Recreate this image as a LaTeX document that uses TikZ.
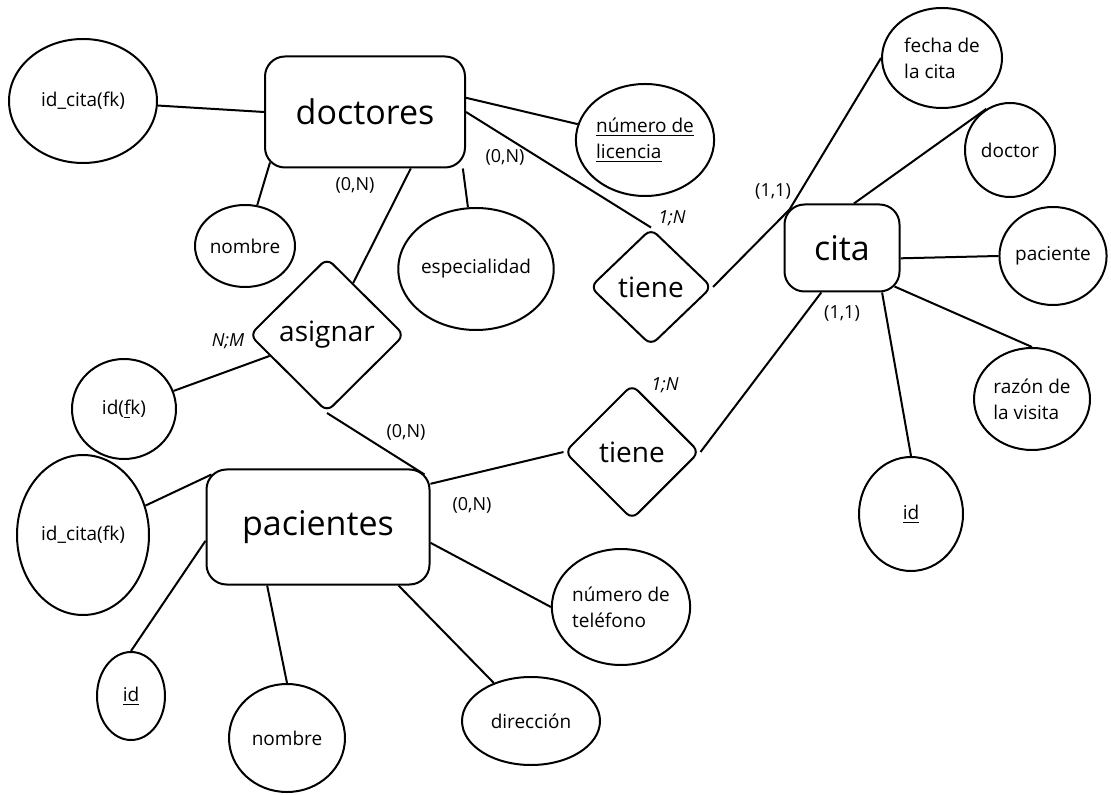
\documentclass[tikz,border=0pt]{standalone}
\usepackage{fontspec}
\setmainfont{Open Sans}
\usetikzlibrary{shapes.geometric}

\begin{document}
\begin{tikzpicture}[x=0.5pt,y=-0.5pt,line width=1pt,
	entidad/.style={draw,rounded corners=10pt,inner sep=0pt,font=\fontsize{17}{20}\selectfont},
	relacion/.style={diamond,draw,rounded corners=4pt,inner sep=0pt,aspect=1,font=\fontsize{14}{16}\selectfont},
	atributo/.style 2 args={ellipse,draw,inner sep=0pt,minimum width=#1,minimum height=#2,align=left,font=\fontsize{9.5}{13}\selectfont},
	cardlabel/.style={inner sep=1pt,font=\fontsize{9}{11}\selectfont}]
			\useasboundingbox (0,0) rectangle (1111,795);
			
			% entidades
			\node[entidad,minimum width=100pt,minimum height=55.5pt] (doctores) at (365,112) {doctores};
			\node[entidad,minimum width=57.5pt,minimum height=43.5pt] (cita) at (842,248) {cita};
			\node[entidad,minimum width=111.5pt,minimum height=57.5pt] (pacientes) at (318,527) {pacientes};
			
			% esquinas redondeadas
			\coordinate (docSW) at ([shift={(6,-6)}]doctores.south west);
			\coordinate (citaNW) at ([shift={(6,6)}]cita.north west);
			\coordinate (citaSE) at ([shift={(-6,-6)}]cita.south east);
			\coordinate (pacNW) at ([shift={(6,6)}]pacientes.north west);
			\coordinate (pacNE) at ([shift={(-6,6)}]pacientes.north east);
			
			% relaciones
			\node[relacion,minimum width=77.5pt,minimum height=77pt] (asignar) at (327,335) {asignar};
			\node[relacion,minimum width=61pt,minimum height=58.5pt] (tieneA) at (651,287) {tiene};
			\node[relacion,minimum width=67.5pt,minimum height=67.5pt] (tieneB) at (632,452) {tiene};
			
			% atributos
			\node[atributo={74pt}{62pt}] (idcitaD) at (83,101) {id\_cita(fk)};
			\node[atributo={50pt}{41pt}] (nombreD) at (245,246) {nombre};
			\node[atributo={68pt}{61pt}] (especialidad) at (476,269) {especialidad};
			\node[atributo={57pt}{56pt}] (licencia) at (645,140) {\underline{número de}\\\underline{licencia}};
			\node[atributo={60pt}{50pt}] (fecha) at (942,58) {fecha de\\la cita};
			\node[atributo={45pt}{47pt}] (doctor) at (1010,150) {doctor};
			\node[atributo={48pt}{49pt}] (paciente) at (1053,256) {paciente};
			\node[atributo={58pt}{51pt}] (razon) at (1032,399) {razón de\\la visita};
			\node[atributo={52pt}{57pt}] (idC) at (911,514) {\underline{id}};
			\node[atributo={52pt}{50pt}] (idfk) at (124,409) {id(\underline{f}k)};
			\node[atributo={66pt}{80pt}] (idcitaP) at (83,535) {id\_cita(fk)};
			\node[atributo={34pt}{44pt}] (idP) at (131,696) {\underline{id}};
			\node[atributo={58pt}{54pt}] (nombreP) at (287,738) {nombre};
			\node[atributo={69pt}{44pt}] (direccion) at (531,721) {dirección};
			\node[atributo={63pt}{58pt}] (telefono) at (621,607) {número de\\teléfono};
			
			% cardinalidades
			\node[cardlabel] (cardA) at (355,185) {(0,N)};
			\node[cardlabel] (cardB) at (505,157) {(0,N)};
			\node[cardlabel] (cardC) at (672,218) {\textit{1;N}};
			\node[cardlabel] (cardD) at (773,192) {(1,1)};
			\node[cardlabel] (cardE) at (842,314) {(1,1)};
			\node[cardlabel] (cardF) at (665,385) {\textit{1;N}};
			\node[cardlabel] (cardG) at (228,341) {\textit{N;M}};
			\node[cardlabel] (cardH) at (406,432) {(0,N)};
			\node[cardlabel] (cardI) at (472,505) {(0,N)};
			
			\foreach \from/\to in {doctores.west/idcitaD,docSW/nombreD,doctores.-30/especialidad,doctores.8/licencia,doctores.east/tieneA.north,doctores.-51/asignar,tieneA.east/citaNW,citaNW/fecha.west,cita.75/doctor.120,cita.-10/paciente.west,citaSE/razon.north,cita.-48/idC.north,cita.-115/tieneB.east,asignar/idfk,asignar.south/pacNE,tieneB.west/pacientes.21,pacNW/idcitaP,pacientes.187/idP.north,pacientes.-131/nombreP.north,pacientes.-36/direccion,pacientes.-8/telefono.west}
			\draw[] (\from) -- (\to);
			\end{tikzpicture}
\end{document}
